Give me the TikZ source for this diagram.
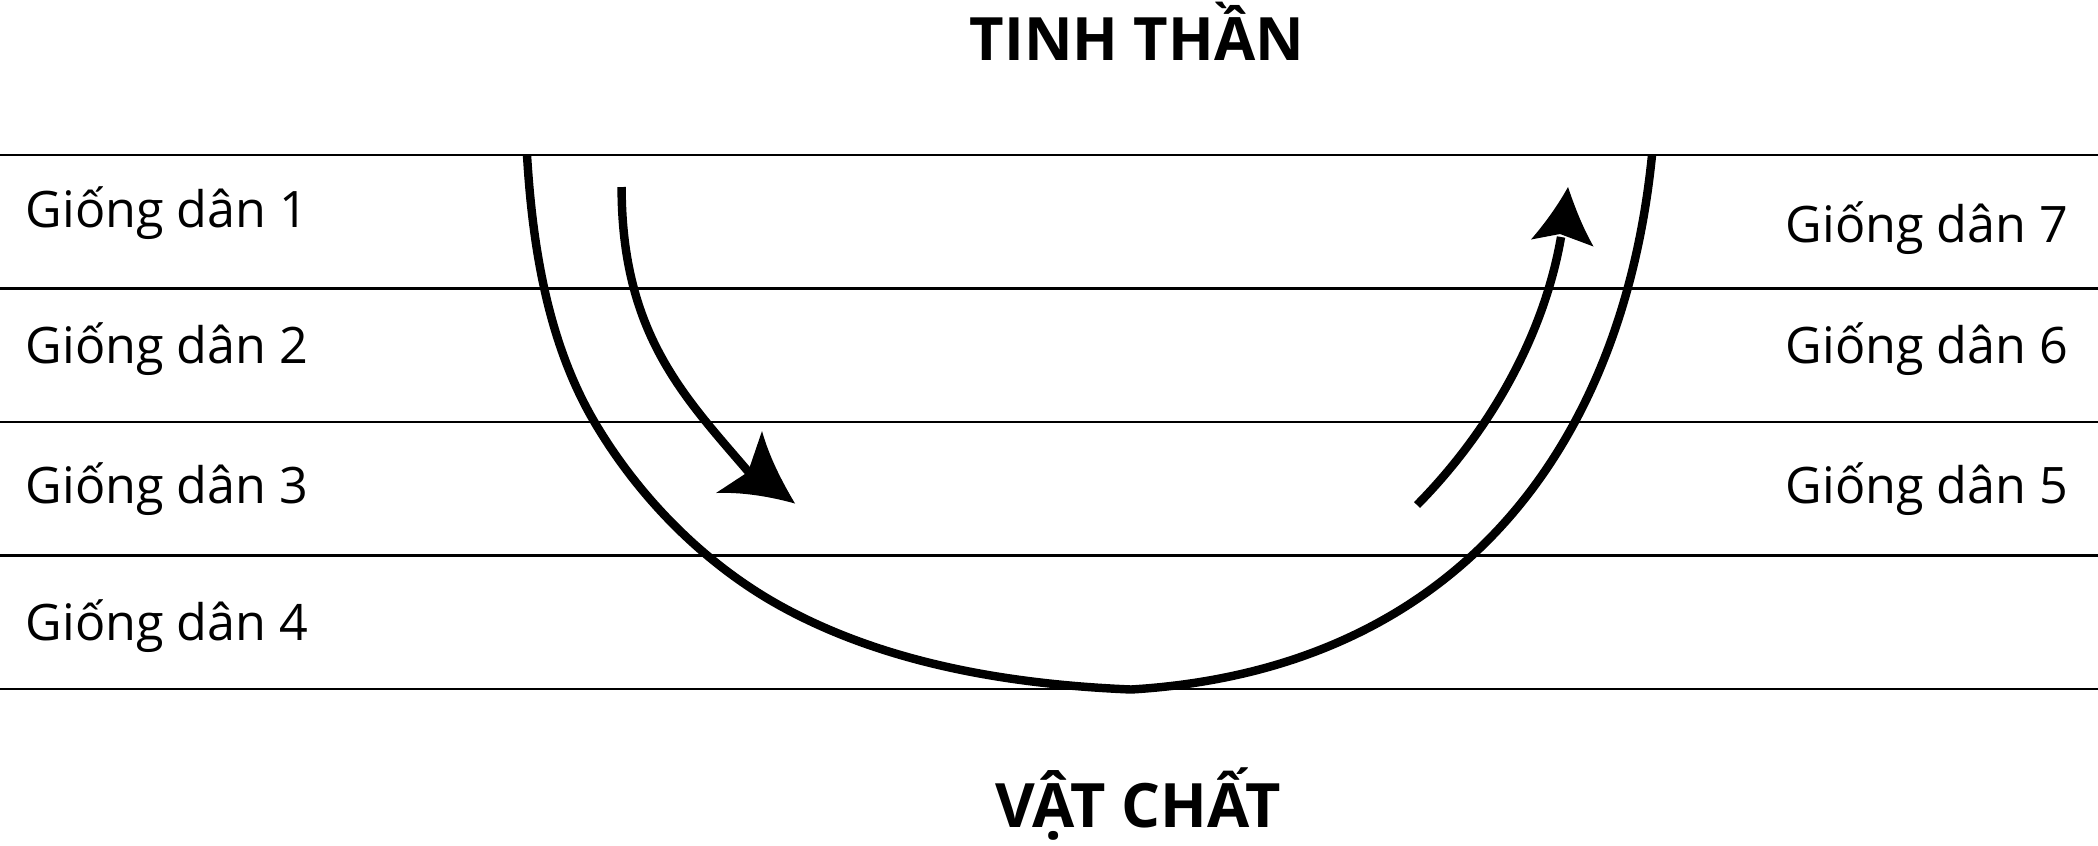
\documentclass[tikz,border=0pt]{standalone}
\usepackage{fontspec}
\setmainfont{Open Sans}
\begin{document}
\begin{tikzpicture}[x=0.01cm,y=-0.01cm,
  rule/.style={line width=0.6pt},
  flow/.style={line width=2.4pt},
  lbl/.style={anchor=base west, inner sep=0pt, font=\fontsize{14.3}{16}\selectfont},
  ttl/.style={anchor=base, inner sep=0pt, font=\bfseries\fontsize{17.4}{20}\selectfont},
  head/.style={fill=black}]
\useasboundingbox (0,0) rectangle (2098,845);
% horizontal rules
\foreach \yy in {155,288.5,422,555.5,689}
  \draw[rule] (0,\yy) -- (2098,\yy);
% titles
\node[ttl, font=\bfseries\fontsize{17.0}{20}\selectfont] (top) at (1137,60) {TINH THẦN};
\node[ttl] (bottom) at (1138,827) {VẬT CHẤT};
% left labels
\node[lbl] (g1) at (25,227) {Giống dân 1};
\node[lbl] (g2) at (25,363) {Giống dân 2};
\node[lbl] (g3) at (25,503) {Giống dân 3};
\node[lbl] (g4) at (25,640) {Giống dân 4};
% right labels
\node[lbl] (g7) at (1785,242) {Giống dân 7};
\node[lbl] (g6) at (1785,363) {Giống dân 6};
\node[lbl] (g5) at (1785,503) {Giống dân 5};
% big U curve
\draw[flow] (527,155)
  .. controls (532.5,247) and (547.9,343) .. (594.6,422.3)
  .. controls (639.2,497.9) and (705.1,564.7) .. (782,606.8)
  .. controls (886.8,664.2) and (1011.6,684.5) .. (1131,689.5)
  .. controls (1460.3,669.7) and (1623,443.6) .. (1652,155);
% downward arrow
\draw[flow] (621.6,187) .. controls (621.6,337) and (687.3,399.7) .. (752,476);
\fill[head] (795,503.5) .. controls (781,480) and (769,456) .. (762,431) -- (748,472) -- (716,493) .. controls (741,492) and (768,496) .. (795,503.5) -- cycle;
% upward arrow
\draw[flow] (1417,505) .. controls (1494,426.9) and (1544.8,330.5) .. (1561,237);
\fill[head] (1568,187) .. controls (1575,208) and (1583,228) .. (1593.5,246.5) -- (1560,234) -- (1531,239.5) .. controls (1546,222) and (1558,205) .. (1568,187) -- cycle;
\end{tikzpicture}
\end{document}
